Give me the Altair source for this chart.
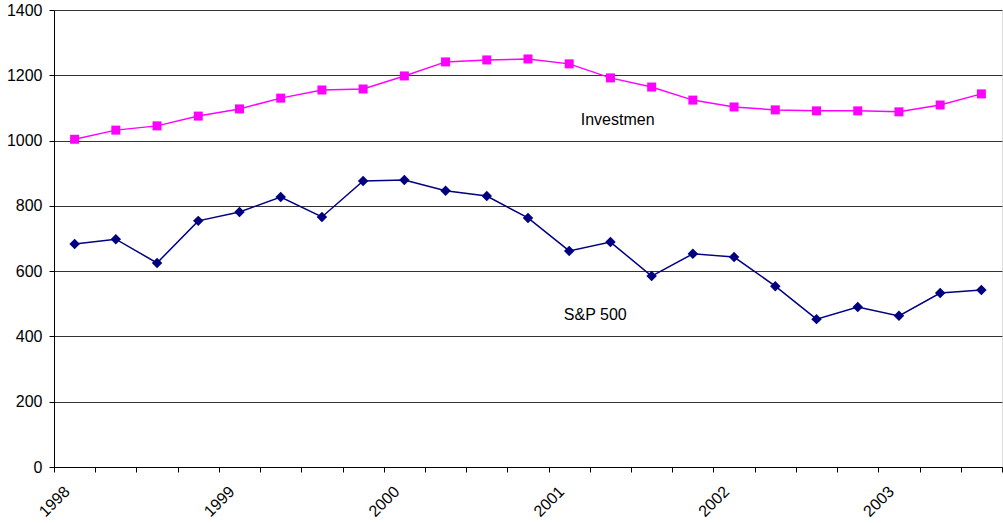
import altair as alt
import pandas as pd

years = ["1998", "1999", "2000", "2001", "2002", "2003"]
investment = [1004, 1032, 1045, 1075, 1097, 1130, 1155, 1158, 1198, 1241, 1247, 1250,
              1235, 1192, 1164, 1124, 1103, 1094, 1091, 1091, 1088, 1109, 1143]
sp500 = [683, 698, 625, 754, 781, 827, 766, 876, 879, 846, 830, 763,
         662, 689, 585, 653, 643, 554, 453, 490, 463, 533, 542]

n = len(investment)
df = pd.DataFrame({
    "pos": [i + 0.5 for i in range(n)] * 2,
    "value": investment + sp500,
    "series": ["Investmen"] * n + ["S&P 500"] * n,
})

labels = pd.DataFrame({
    "x": [12.78, 12.37],
    "y": [1063, 467],
    "text": ["Investmen", "S&P 500"],
})

label_expr = "datum.value % 4 == 0 ? " + str(years) + "[datum.value / 4] : ''"

x = alt.X("pos:Q", scale=alt.Scale(domain=[0, n], nice=False, zero=False),
          axis=alt.Axis(values=list(range(n + 1)), labelExpr=label_expr, title=None,
                        grid=False, labelAngle=-45, labelAlign="right", labelBaseline="top",
                        labelOffset=7, labelPadding=11, tickSize=5, tickColor="#000",
                        domainColor="#000", labelFont="Liberation Sans", labelFontSize=16,
                        labelColor="#000", labelOverlap=False, labelFlush=False))
y = alt.Y("value:Q", scale=alt.Scale(domain=[0, 1400], nice=False),
          axis=alt.Axis(values=list(range(0, 1401, 200)), format="d", title=None, grid=True,
                        gridColor="#333", gridWidth=1, tickSize=5, tickColor="#000",
                        domainColor="#000", labelPadding=7, labelFont="Liberation Sans",
                        labelFontSize=16, labelColor="#000"))

color = alt.Color("series:N", scale=alt.Scale(domain=["Investmen", "S&P 500"],
                                               range=["#FF00FF", "#000080"]), legend=None)

lines = alt.Chart(df).mark_line(strokeWidth=1.5).encode(x=x, y=y, color=color, detail="series:N")
inv_pts = alt.Chart(df).transform_filter("datum.series == 'Investmen'").mark_point(
    shape="square", filled=True, size=81, opacity=1, color="#FF00FF").encode(x=x, y=y)
sp_pts = alt.Chart(df).transform_filter("datum.series == 'S&P 500'").mark_point(
    shape="diamond", filled=True, size=110, opacity=1, color="#000080").encode(x=x, y=y)
text = alt.Chart(labels).mark_text(align="left", baseline="middle", font="Liberation Sans",
                                   fontSize=16, color="#000").encode(
    x=alt.X("x:Q"), y=alt.Y("y:Q"), text="text:N")

chart = alt.layer(lines, inv_pts, sp_pts, text).properties(
    width=948, height=457,
    autosize=alt.AutoSizeParams(type="none"),
    padding={"left": 54, "top": 10, "right": 1, "bottom": 56},
).configure_view(stroke="#808080", strokeWidth=1).configure(background="white")

chart.save("out.html", embed_options={"renderer": "svg", "actions": False})
